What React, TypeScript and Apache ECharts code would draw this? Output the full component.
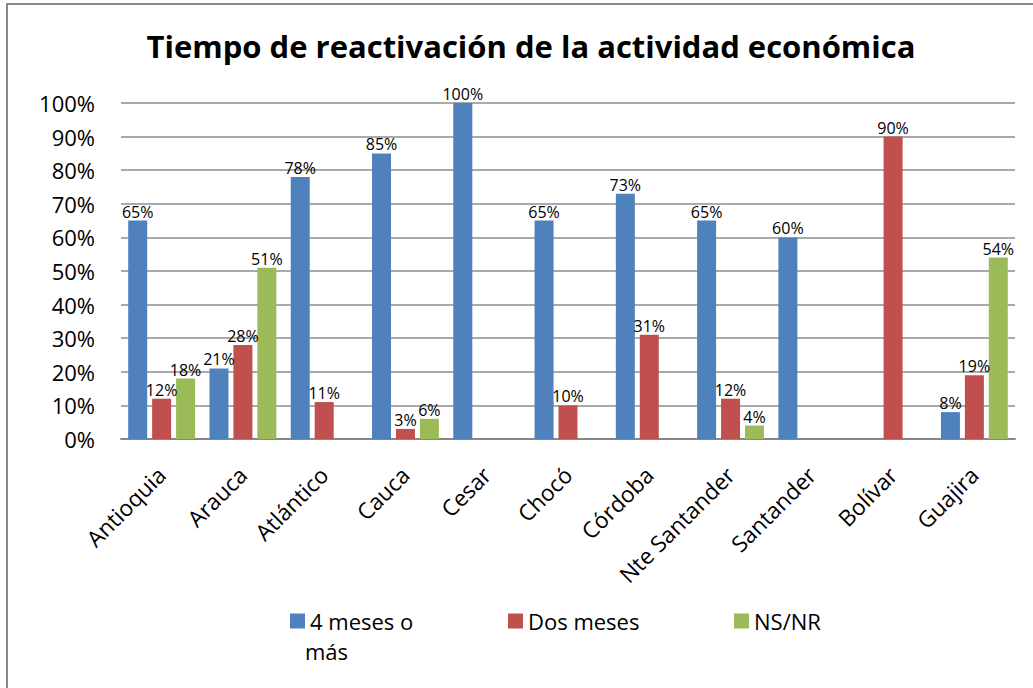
import React, { useEffect, useRef } from "react";
import * as echarts from "echarts";

const categories = [
  "Antioquia",
  "Arauca",
  "Atlántico",
  "Cauca",
  "Cesar",
  "Chocó",
  "Córdoba",
  "Nte Santander",
  "Santander",
  "Bolívar",
  "Guajira",
];

const seriesNames = ["4 meses o más", "Dos meses", "NS/NR"];
const cuatroMeses = [65, 21, 78, 85, 100, 65, 73, 65, 60, null, 8];
const dosMeses = [12, 28, 11, 3, null, 10, 31, 12, null, 90, 19];
const nsnr = [18, 51, null, 6, null, null, null, 4, null, null, 54];
const colors = ["#4F81BD", "#C0504D", "#9BBB59"];
const yTicks = { min: 0, max: 100, interval: 10 };

const FONT = "'Open Sans', sans-serif";

export default function App() {
  const ref = useRef<HTMLDivElement>(null);
  useEffect(() => {
    if (!ref.current) return;
    const chart = echarts.init(ref.current, null, { renderer: "svg" });
    const dataSets = [cuatroMeses, dosMeses, nsnr];
    const legendLefts = [285, 503, 729];
    const option = {
      animation: false,
      backgroundColor: "#ffffff",
      textStyle: { fontFamily: FONT },
      title: {
        text: "Tiempo de reactivación de la actividad económica",
        left: 526,
        top: 25,
        textAlign: "center",
        textStyle: {
          fontFamily: FONT,
          fontSize: 31,
          fontWeight: "bold",
          color: "#000",
        },
      },
      graphic: [
        {
          type: "line",
          shape: { x1: 6, y1: 4, x2: 1033, y2: 4 },
          style: { stroke: "#888888", lineWidth: 2 },
        },
        {
          type: "line",
          shape: { x1: 7, y1: 3, x2: 7, y2: 688 },
          style: { stroke: "#888888", lineWidth: 2 },
        },
        {
          type: "text",
          left: 305,
          top: 640,
          style: {
            text: "más",
            fontFamily: FONT,
            fontSize: 22,
            fill: "#000",
          },
        },
      ],
      legend: seriesNames.map((name, i) => ({
        data: [name],
        left: legendLefts[i],
        top: 605,
        itemWidth: 15,
        itemHeight: 15,
        itemGap: 5,
        icon: "rect",
        formatter: (n: string) => (n === "4 meses o más" ? "4 meses o" : n),
        textStyle: {
          fontFamily: FONT,
          fontSize: 22,
          color: "#000",
          lineHeight: 22,
        },
      })),
      grid: { left: 121, right: 18, top: 103, bottom: 249, containLabel: false },
      xAxis: {
        type: "category",
        data: categories,
        axisLine: { show: true, lineStyle: { color: "#878787", width: 2 } },
        axisTick: { show: false },
        axisLabel: {
          rotate: 45,
          interval: 0,
          margin: 32,
          fontFamily: FONT,
          fontSize: 22.5,
          color: "#000",
        },
      },
      yAxis: {
        type: "value",
        min: yTicks.min,
        max: yTicks.max,
        interval: yTicks.interval,
        axisLine: { show: false },
        axisTick: { show: false },
        axisLabel: {
          formatter: "{value}%",
          margin: 26,
          fontFamily: FONT,
          fontSize: 22,
          color: "#000",
        },
        splitLine: { lineStyle: { color: "#8e8e8e", width: 1.5 } },
      },
      series: seriesNames.map((name, i) => ({
        name,
        type: "bar",
        data: dataSets[i],
        barWidth: 19,
        barGap: "26%",
        itemStyle: { color: colors[i] },
        label: {
          show: true,
          position: "top",
          distance: 1,
          formatter: "{c}%",
          fontFamily: FONT,
          fontSize: 16,
          color: "#000",
        },
      })),
    };
    chart.setOption(option as any);
    return () => chart.dispose();
  }, []);
  return (
    <div
      ref={ref}
      style={{ position: "absolute", left: 0, top: 0, width: 1033, height: 688 }}
    />
  );
}
